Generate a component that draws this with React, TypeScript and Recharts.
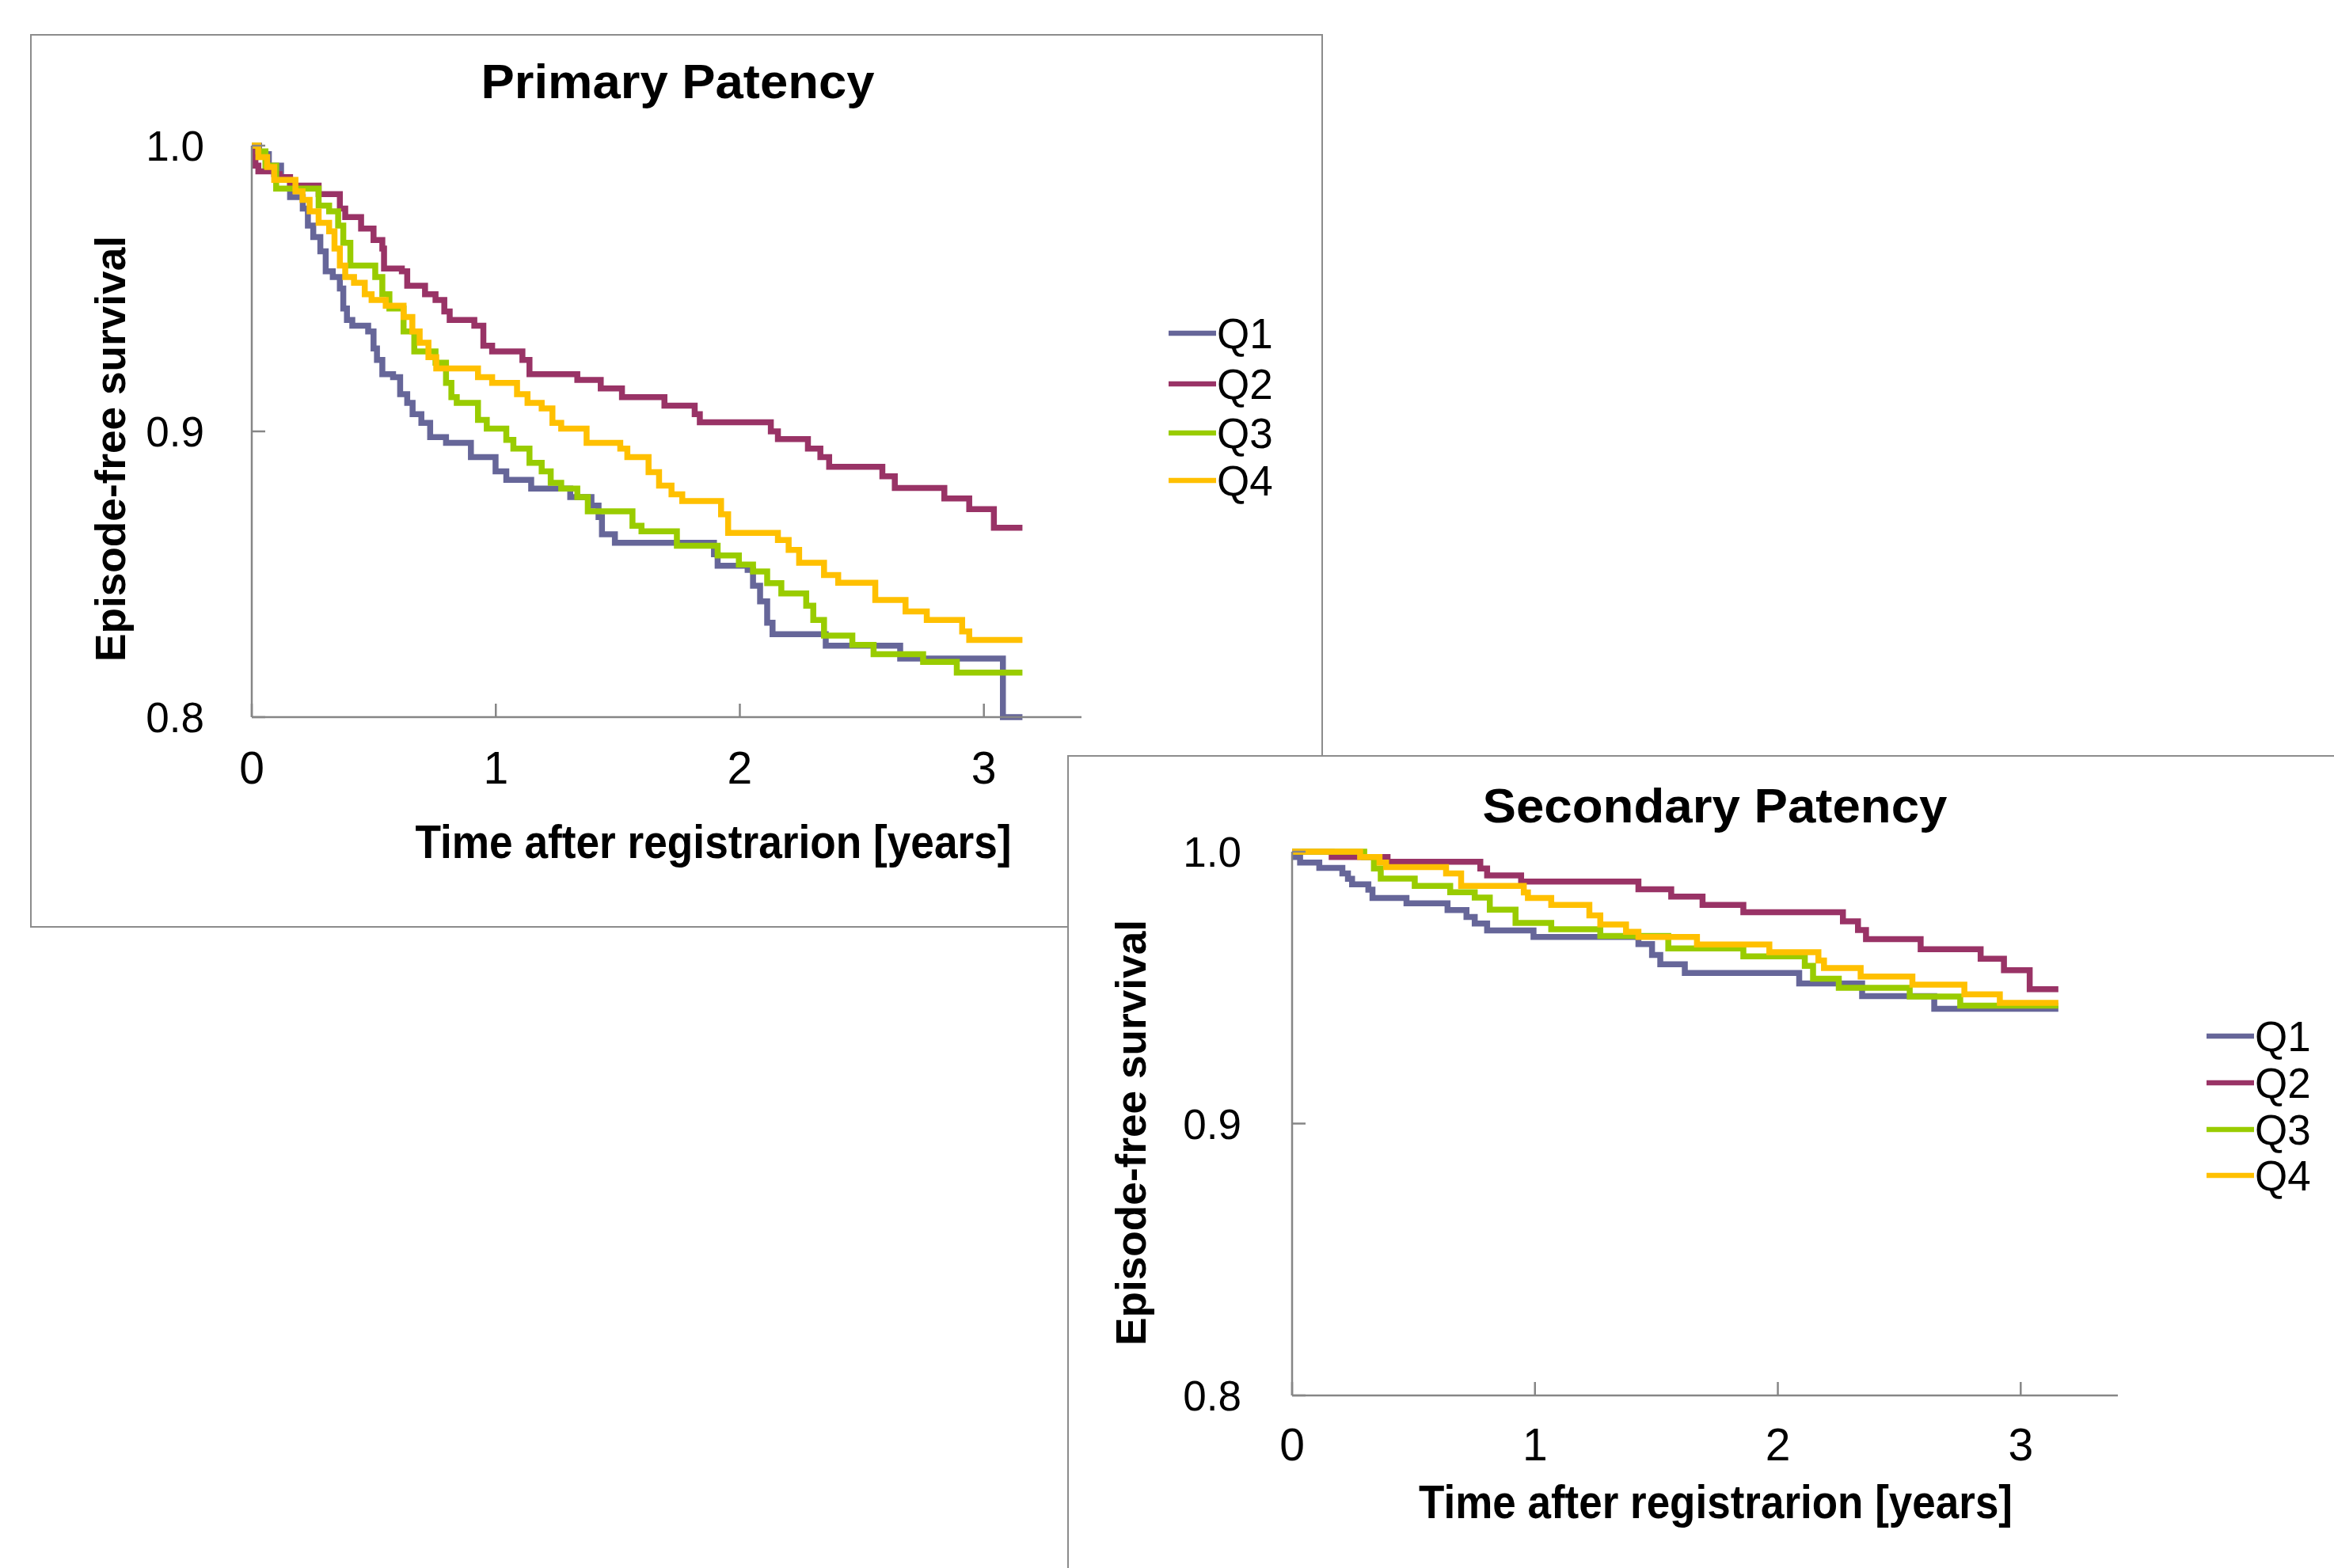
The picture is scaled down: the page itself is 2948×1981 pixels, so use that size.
import React from 'react';
import { LineChart, Line, XAxis, YAxis } from 'recharts';

const FONT = '"Liberation Sans", Arial, Helvetica, sans-serif';
const AXIS = '#868686';
const FRAME = '#8c8c8c';

const seriesNames = ['Q1', 'Q2', 'Q3', 'Q4'];
const seriesColors = ['#666699', '#993366', '#99CC00', '#FFC000'];
const xTicks = [0, 1, 2, 3];
const yTicks = [0.8, 0.9, 1.0];

type Pt = [number, number];

// Primary patency: [time in years, episode-free survival]
const primaryQ1: Pt[] = [
  [0, 1.0], [0.03, 0.997], [0.07, 0.993], [0.12, 0.988], [0.157, 0.982], [0.209, 0.978],
  [0.23, 0.972], [0.252, 0.968], [0.281, 0.963], [0.303, 0.956], [0.332, 0.954], [0.361, 0.95],
  [0.375, 0.943], [0.39, 0.939], [0.412, 0.937], [0.477, 0.935], [0.499, 0.929], [0.513, 0.925],
  [0.535, 0.92], [0.579, 0.919], [0.608, 0.913], [0.637, 0.91], [0.659, 0.906], [0.695, 0.903],
  [0.731, 0.898], [0.796, 0.896], [0.898, 0.891], [0.999, 0.886], [1.043, 0.883], [1.145, 0.88],
  [1.305, 0.877], [1.392, 0.874], [1.421, 0.87], [1.435, 0.864], [1.488, 0.861], [1.894, 0.857],
  [1.909, 0.853], [2.032, 0.8515], [2.054, 0.846], [2.083, 0.8405], [2.112, 0.833], [2.134, 0.829],
  [2.352, 0.825], [2.657, 0.8205], [3.078, 0.8], [3.158, 0.8],
];
const primaryQ2: Pt[] = [
  [0, 1.0], [0.005, 0.996], [0.015, 0.993], [0.027, 0.991], [0.092, 0.99], [0.114, 0.989],
  [0.157, 0.986], [0.274, 0.983], [0.361, 0.978], [0.383, 0.975], [0.448, 0.971], [0.499, 0.967],
  [0.535, 0.964], [0.542, 0.957], [0.615, 0.956], [0.637, 0.951], [0.71, 0.948], [0.753, 0.946],
  [0.789, 0.942], [0.811, 0.939], [0.912, 0.937], [0.949, 0.93], [0.985, 0.928], [1.109, 0.925],
  [1.138, 0.92], [1.334, 0.918], [1.43, 0.915], [1.517, 0.912], [1.691, 0.909], [1.815, 0.906],
  [1.836, 0.9032], [2.127, 0.9], [2.156, 0.8973], [2.279, 0.894], [2.33, 0.891], [2.366, 0.8876],
  [2.584, 0.8843], [2.635, 0.8802], [2.838, 0.8765], [2.94, 0.8728], [3.041, 0.8663], [3.158, 0.8663],
];
const primaryQ3: Pt[] = [
  [0, 1.0], [0.027, 0.998], [0.056, 0.993], [0.1, 0.985], [0.274, 0.979], [0.317, 0.977],
  [0.354, 0.972], [0.375, 0.966], [0.404, 0.958], [0.506, 0.954], [0.535, 0.948], [0.564, 0.943],
  [0.622, 0.935], [0.666, 0.928], [0.753, 0.924], [0.796, 0.917], [0.818, 0.912], [0.84, 0.91],
  [0.927, 0.904], [0.963, 0.901], [1.043, 0.897], [1.072, 0.894], [1.138, 0.889], [1.188, 0.886],
  [1.225, 0.882], [1.268, 0.88], [1.334, 0.877], [1.377, 0.872], [1.56, 0.867], [1.597, 0.865],
  [1.742, 0.86], [1.909, 0.8566], [1.996, 0.8534], [2.054, 0.851], [2.112, 0.8469], [2.17, 0.8433],
  [2.272, 0.839], [2.301, 0.834], [2.345, 0.8285], [2.461, 0.8253], [2.548, 0.822], [2.751, 0.8193],
  [2.889, 0.8156], [3.158, 0.8156],
];
const primaryQ4: Pt[] = [
  [0, 1.0], [0.027, 0.996], [0.063, 0.9925], [0.092, 0.988], [0.179, 0.984], [0.208, 0.981],
  [0.237, 0.977], [0.274, 0.973], [0.317, 0.97], [0.339, 0.964], [0.361, 0.958], [0.383, 0.954],
  [0.419, 0.952], [0.463, 0.948], [0.491, 0.946], [0.549, 0.944], [0.622, 0.94], [0.658, 0.935],
  [0.688, 0.931], [0.724, 0.926], [0.756, 0.922], [0.927, 0.919], [0.985, 0.917], [1.087, 0.913],
  [1.13, 0.91], [1.188, 0.908], [1.232, 0.903], [1.268, 0.901], [1.372, 0.896], [1.51, 0.894],
  [1.539, 0.891], [1.626, 0.8857], [1.669, 0.881], [1.72, 0.878], [1.764, 0.8756], [1.923, 0.871],
  [1.952, 0.8645], [2.156, 0.862], [2.2, 0.8585], [2.243, 0.854], [2.345, 0.8497], [2.403, 0.847],
  [2.555, 0.841], [2.679, 0.837], [2.766, 0.834], [2.911, 0.83], [2.94, 0.827], [3.158, 0.827],
];

// Secondary patency
const secondaryQ1: Pt[] = [
  [0, 1.0], [0.005, 0.998], [0.033, 0.996], [0.112, 0.994], [0.207, 0.992], [0.23, 0.99],
  [0.247, 0.988], [0.314, 0.986], [0.331, 0.983], [0.471, 0.981], [0.64, 0.9785], [0.718, 0.976],
  [0.752, 0.9736], [0.803, 0.971], [0.994, 0.9686], [1.426, 0.966], [1.482, 0.962], [1.516, 0.9586],
  [1.617, 0.9554], [2.088, 0.9515], [2.347, 0.9469], [2.644, 0.9422], [3.155, 0.9422],
];
const secondaryQ2: Pt[] = [
  [0, 1.0], [0.163, 0.998], [0.393, 0.9963], [0.775, 0.9938], [0.803, 0.9913], [0.943, 0.989],
  [1.426, 0.9862], [1.561, 0.9835], [1.69, 0.9804], [1.858, 0.9777], [2.268, 0.9744], [2.33, 0.9712],
  [2.363, 0.9678], [2.588, 0.9641], [2.835, 0.9606], [2.931, 0.9564], [3.037, 0.9494], [3.155, 0.9494],
];
const secondaryQ3: Pt[] = [
  [0, 1.0], [0.297, 0.998], [0.337, 0.9938], [0.365, 0.9901], [0.505, 0.9874], [0.651, 0.9851],
  [0.752, 0.9831], [0.814, 0.9787], [0.92, 0.9738], [1.067, 0.9715], [1.269, 0.969], [1.549, 0.9644],
  [1.858, 0.9615], [2.111, 0.958], [2.145, 0.9533], [2.251, 0.9499], [2.543, 0.9467], [2.751, 0.9434],
  [3.155, 0.9434],
];
const secondaryQ4: Pt[] = [
  [0, 1.0], [0.28, 0.998], [0.36, 0.996], [0.387, 0.9943], [0.634, 0.992], [0.696, 0.9874],
  [0.954, 0.985], [0.971, 0.983], [1.067, 0.9804], [1.224, 0.9766], [1.269, 0.9732], [1.375, 0.9705],
  [1.426, 0.9686], [1.667, 0.9659], [1.965, 0.963], [2.167, 0.96], [2.19, 0.9572], [2.341, 0.9541],
  [2.554, 0.9511], [2.768, 0.9475], [2.914, 0.9444], [3.155, 0.9444],
];

const toRows = (pts: Pt[]) => pts.map(([t, v]) => ({ t, v }));

interface PanelSpec {
  title: string;
  series: Pt[][];
  left: number;
  top: number;
  width: number;
  height: number;
  margin: { top: number; right: number; bottom: number; left: number };
  yAxisW: number;
  xAxisH: number;
  yGap: number;
  xBase: number;
  titleX: number;
  titleY: number;
  titleLen: number;
  yLabX: number;
  yLabY: number;
  xLabX: number;
  xLabY: number;
  xLabLen: number;
  legX: number;
  legYs: number[];
}

const panels: PanelSpec[] = [
  {
    title: 'Primary Patency',
    series: [primaryQ1, primaryQ2, primaryQ3, primaryQ4],
    left: 0, top: 0, width: 1671, height: 1172,
    // plot area: x 318..1366, y 184..906
    margin: { top: 184, right: 305, bottom: 166, left: 218 },
    yAxisW: 100, xAxisH: 100,
    yGap: 60, xBase: 84,
    titleX: 856, titleY: 124, titleLen: 497,
    yLabX: 158, yLabY: 567,
    xLabX: 901, xLabY: 1084, xLabLen: 753,
    legX: 1476, legYs: [421, 485, 547, 607],
  },
  {
    title: 'Secondary Patency',
    series: [secondaryQ1, secondaryQ2, secondaryQ3, secondaryQ4],
    left: 1348, top: 954, width: 1600, height: 1027,
    // plot area: x 1632..2675, y 1076..1763
    margin: { top: 122, right: 273, bottom: 118, left: 184 },
    yAxisW: 100, xAxisH: 100,
    yGap: 64, xBase: 82,
    titleX: 2166, titleY: 1039, titleLen: 587,
    yLabX: 1447, yLabY: 1431,
    xLabX: 2167, xLabY: 1918, xLabLen: 750,
    legX: 2787, legYs: [1309, 1368, 1427, 1485],
  },
];

const makeYTick = (gap: number) => (props: any) => {
  const { x, y, payload } = props;
  return (
    <g>
      <line x1={x} x2={x + 17} y1={y} y2={y} stroke={AXIS} strokeWidth={2.5} />
      <text x={x - gap} y={y + 19} textAnchor="end" fontFamily={FONT} fontSize={53} fill="#000">
        {Number(payload.value).toFixed(1)}
      </text>
    </g>
  );
};

const makeXTick = (base: number) => (props: any) => {
  const { x, y, payload } = props;
  return (
    <g>
      <line x1={x} x2={x} y1={y} y2={y - 17} stroke={AXIS} strokeWidth={2.5} />
      <text x={x} y={y + base} textAnchor="middle" fontFamily={FONT} fontSize={57} fill="#000">
        {String(payload.value)}
      </text>
    </g>
  );
};

const Panel: React.FC<{ p: PanelSpec }> = ({ p }) => (
  <>
    <div style={{ position: 'absolute', left: p.left, top: p.top }}>
      <LineChart width={p.width} height={p.height} margin={p.margin}>
        <XAxis
          type="number"
          dataKey="t"
          domain={[0, 3.4]}
          ticks={xTicks}
          interval={0}
          height={p.xAxisH}
          tickSize={0}
          tickMargin={0}
          tickLine={false}
          axisLine={{ stroke: AXIS, strokeWidth: 2.5 }}
          tick={makeXTick(p.xBase)}
          allowDataOverflow
        />
        <YAxis
          type="number"
          domain={[0.8, 1.0]}
          ticks={yTicks}
          interval={0}
          width={p.yAxisW}
          tickSize={0}
          tickMargin={0}
          tickLine={false}
          axisLine={{ stroke: AXIS, strokeWidth: 2.5 }}
          tick={makeYTick(p.yGap)}
        />
        {p.series.map((s, i) => (
          <Line
            key={seriesNames[i]}
            data={toRows(s)}
            dataKey="v"
            name={seriesNames[i]}
            type="stepAfter"
            stroke={seriesColors[i]}
            strokeWidth={7.5}
            dot={false}
            activeDot={false}
            isAnimationActive={false}
          />
        ))}
      </LineChart>
    </div>
    <svg
      style={{ position: 'absolute', left: p.left, top: p.top, overflow: 'visible', pointerEvents: 'none' }}
      width={p.width}
      height={p.height}
    >
      <g transform={`translate(${-p.left},${-p.top})`} fontFamily={FONT} fill="#000">
        <text x={p.titleX} y={p.titleY} textAnchor="middle" fontWeight={700} fontSize={62}
          textLength={p.titleLen} lengthAdjust="spacingAndGlyphs">{p.title}</text>
        <text transform={`translate(${p.yLabX},${p.yLabY}) rotate(-90)`} textAnchor="middle"
          fontWeight={700} fontSize={53} textLength={538} lengthAdjust="spacingAndGlyphs">
          Episode-free survival
        </text>
        <text x={p.xLabX} y={p.xLabY} textAnchor="middle" fontWeight={700} fontSize={60}
          textLength={p.xLabLen} lengthAdjust="spacingAndGlyphs">
          Time after registrarion [years]
        </text>
        {seriesNames.map((n, i) => (
          <g key={n}>
            <line x1={p.legX} x2={p.legX + 60} y1={p.legYs[i]} y2={p.legYs[i]}
              stroke={seriesColors[i]} strokeWidth={6.5} />
            <text x={p.legX + 61} y={p.legYs[i] + 19} fontSize={53}>{n}</text>
          </g>
        ))}
      </g>
    </svg>
  </>
);

export default function App() {
  return (
    <div style={{ position: 'absolute', left: 0, top: 0, width: 2948, height: 1981, background: '#fff', overflow: 'hidden' }}>
      <div style={{ position: 'absolute', left: 38, top: 43, width: 1633, height: 1129, border: `2px solid ${FRAME}`, boxSizing: 'border-box', background: '#fff' }} />
      <Panel p={panels[0]} />
      <div style={{ position: 'absolute', left: 1348, top: 954, width: 1700, height: 1100, border: `2px solid ${FRAME}`, boxSizing: 'border-box', background: '#fff' }} />
      <Panel p={panels[1]} />
    </div>
  );
}
